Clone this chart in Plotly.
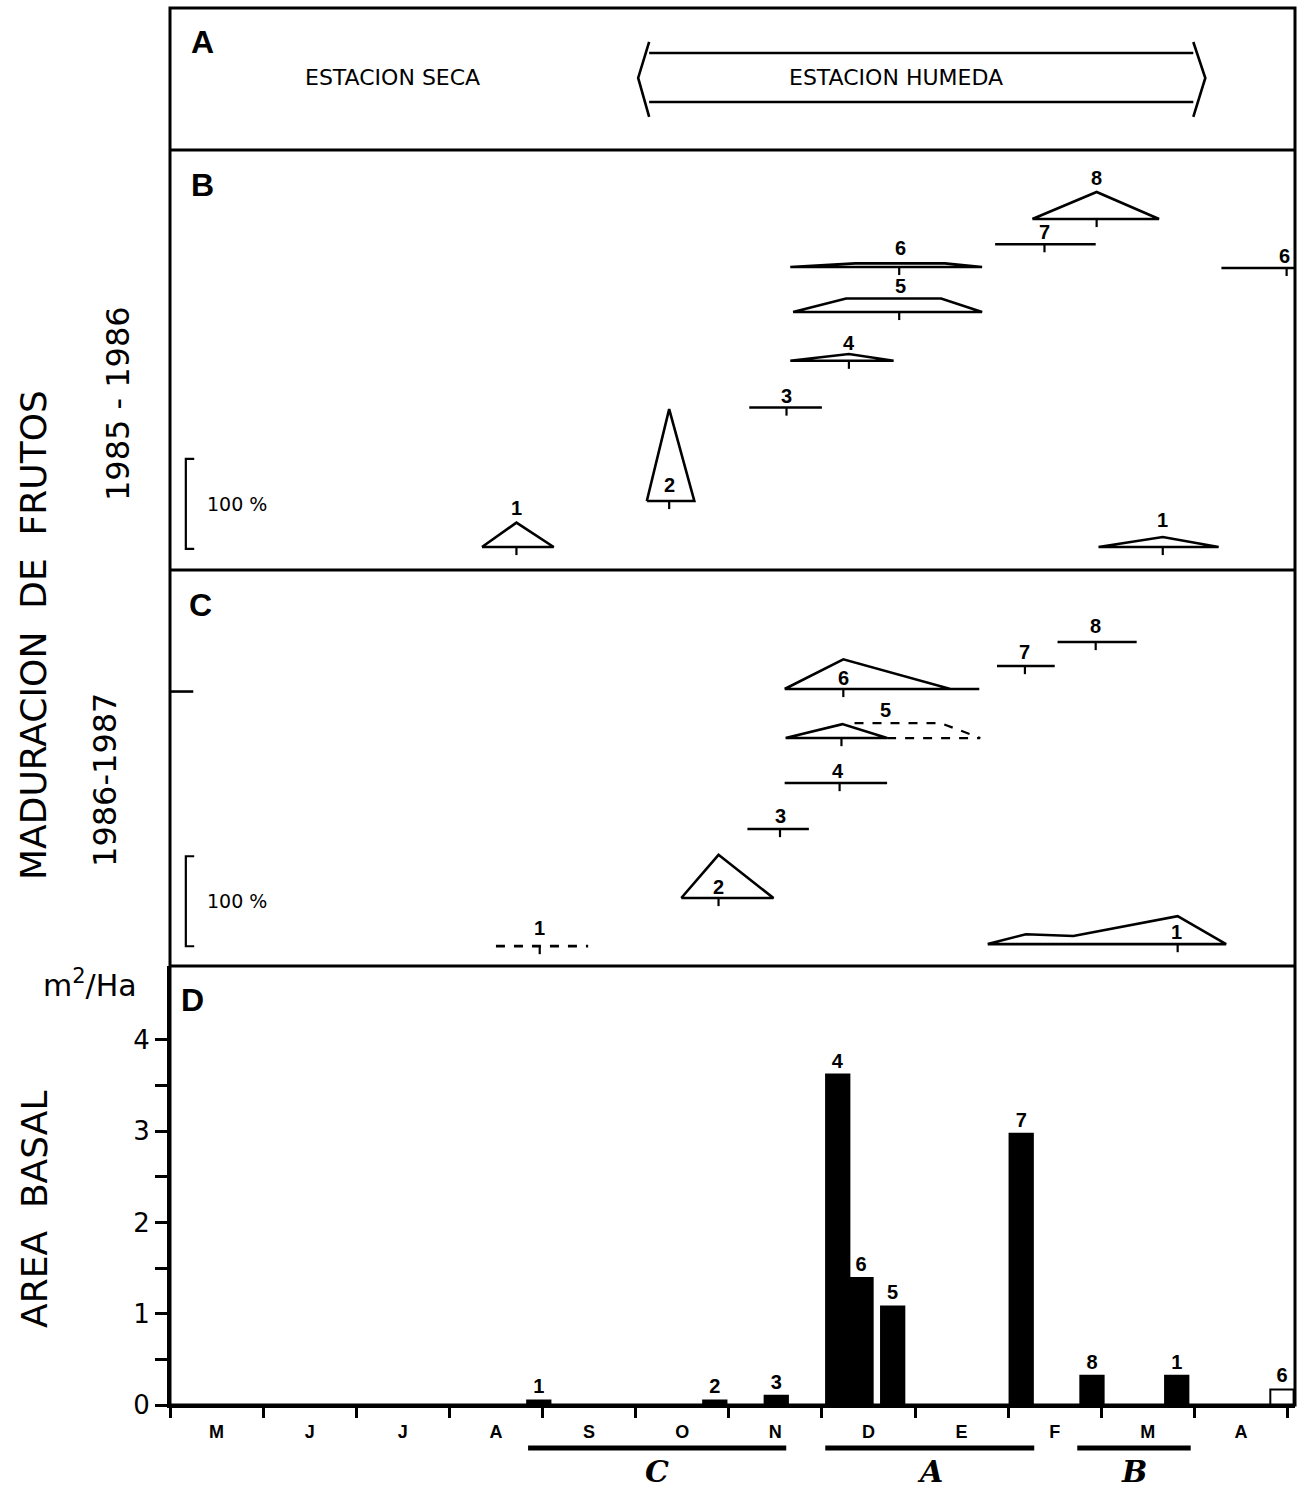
import plotly.graph_objects as go

# ---------------- data ----------------
MONTHS = ["M", "J", "J", "A", "S", "O", "N", "D", "E", "F", "M", "A"]
MONTH_MID = [i + 0.5 for i in range(12)]
MONTH_EDGES = list(range(13))

# Panel B (1985-1986): ripening profiles, x in months from 1 May, pct = % of fruits ripening
B_labels = ["1", "2", "3", "4", "5", "6", "7", "8", "6", "1"]
B_x = [[3.35, 3.72, 4.12], [5.12, 5.36, 5.63], [6.22, 7.00], [6.66, 7.29, 7.77],
       [6.69, 7.26, 8.28, 8.72], [6.66, 7.36, 8.32, 8.72], [8.86, 9.94],
       [9.26, 9.95, 10.62], [11.29, 12.08], [9.97, 10.66, 11.26]]
B_pct = [[0, 27, 0], [0, 102, 0], [0, 0], [0, 7.5, 0], [0, 15, 15, 0], [0, 4, 4, 0],
         [0, 0], [0, 30, 0], [0, 0], [0, 11, 0]]
B_peak = [3.72, 5.36, 6.62, 7.29, 7.83, 7.83, 9.39, 9.95, 11.99, 10.66]
B_rows = [25.6, 76.7, 180.5, 232.5, 286.7, 336.7, 362, 390, 335.6, 25.6]
B_lab_x = [3.72, 5.36, 6.62, 7.29, 7.84, 7.84, 9.39, 9.95, 11.97, 10.66]
B_lab_dy = [43, 18, 13, 20, 29, 21, 13, 46, 13, 30]

# Panel C (1986-1987)
C_labels = ["1", "2", "3", "4", "5", "6", "7", "8", "1"]
C_x = [[3.50, 4.49], [5.49, 5.89, 6.48], [6.20, 6.86], [6.60, 7.70], [6.61, 7.22, 7.70],
       [6.60, 7.23, 8.38, 8.69], [8.88, 9.50], [9.53, 10.38],
       [8.78, 9.19, 9.70, 10.82, 11.34]]
C_pct = [[0, 0], [0, 48, 0], [0, 0], [0, 0], [0, 15.5, 0], [0, 33, 0, 0], [0, 0], [0, 0],
         [0, 11, 9, 31, 0]]
C_dashed = [True, False, False, False, False, False, False, False, False]
C_peak = [3.97, 5.89, 6.55, 7.19, 7.21, 7.23, 9.18, 9.94, 10.82]
C_rows = [22.2, 75.6, 152.2, 203.3, 253.3, 307.8, 333.3, 360, 24.4]
C_lab_x = [3.97, 5.89, 6.55, 7.17, 7.68, 7.23, 9.18, 9.94, 10.81]
C_lab_dy = [20, 12, 14, 13, 31, 12, 16, 18, 13]
C5_dash_x = [7.35, 8.28, 8.70]
C5_dash_pct = [16.5, 16.5, 0]
C5_dash_base_x = [7.70, 8.70]
C6_prev_x = [0.0, 0.25]
C6_prev_row = 305

# Panel D: basal area (m2/Ha)
D_labels = ["1", "2", "3", "4", "6", "5", "7", "8", "1", "6"]
D_x = [3.96, 5.85, 6.51, 7.17, 7.42, 7.76, 9.14, 9.90, 10.81, 11.94]
D_val = [0.05, 0.05, 0.10, 3.62, 1.39, 1.08, 2.97, 0.32, 0.32, 0.17]
D_open = [False] * 9 + [True]

# Panel A: seasons
WET_START, WET_END = 5.145, 10.988
GROUPS = ["C", "A", "B"]
GROUP_START = [3.845, 7.036, 9.742]
GROUP_END = [6.617, 9.280, 10.960]

# ---------------- layout geometry ----------------
DOM_D = (0.0, 0.3142)
DOM_C = (0.3142, 0.5977)
DOM_B = (0.5977, 0.8984)
DOM_A = (0.8984, 1.0)
XMAX = 12.08

fig = go.Figure()
BLACK = "black"
LW = 2.6


def add_line(x, y, yref, dash="solid", width=LW):
    fig.add_trace(go.Scatter(x=x, y=y, yaxis=yref, mode="lines",
                             line=dict(color=BLACK, width=width, dash=dash),
                             hoverinfo="skip", showlegend=False, cliponaxis=False))


def note(x, y, xref, yref, text, font, angle=0):
    fig.add_annotation(x=x, y=y, xref=xref, yref=yref, text=text, showarrow=False,
                       xanchor="center", yanchor="middle", textangle=angle, font=font)


def add_panel(labels, xs, pcts, rows, peaks, lab_x, lab_dy, yref, dashed=None):
    tx, ty = [], []
    for i, lab in enumerate(labels):
        row = rows[i]
        dash = "dash" if (dashed and dashed[i]) else "solid"
        if all(p == 0 for p in pcts[i]):
            x = list(xs[i]); y = [row] * len(xs[i])
        else:
            x = list(xs[i]) + [xs[i][0]]
            y = [row + p for p in pcts[i]] + [row]
        add_line(x, y, yref, dash=dash)
        tx += [peaks[i], peaks[i], None]
        ty += [row, row - 9, None]
        note(lab_x[i], row + lab_dy[i], "x", yref, lab,
             dict(family="Liberation Sans", size=20, weight="bold", color=BLACK))
    add_line(tx, ty, yref, width=2.2)


add_panel(B_labels, B_x, B_pct, B_rows, B_peak, B_lab_x, B_lab_dy, "y3")
add_panel(C_labels, C_x, C_pct, C_rows, C_peak, C_lab_x, C_lab_dy, "y2", C_dashed)
# extra pieces in C
r5 = C_rows[4]
add_line(C5_dash_x, [r5 + p for p in C5_dash_pct], "y2", dash="dash", width=2.2)
add_line(C5_dash_base_x, [r5, r5], "y2", dash="dash", width=2.2)
add_line(C6_prev_x, [C6_prev_row, C6_prev_row], "y2")

# scale brackets (100 %)
for yref, base in (("y3", 23.5), ("y2", 22.0)):
    add_line([0.26, 0.17, 0.17, 0.26], [base + 100, base + 100, base, base], yref, width=2.2)
    note(0.72, base + 50, "x", yref, "100 %", dict(family="DejaVu Sans", size=19, color=BLACK))

# Panel A: double arrow
add_line([WET_START, WET_END], [97, 97], "y4")
add_line([WET_START, WET_END], [48, 48], "y4")
add_line([WET_START, WET_START - 0.118, WET_START], [108, 72, 33], "y4")
add_line([WET_END, WET_END + 0.129, WET_END], [108, 72, 33], "y4")
note(2.39, 72, "x", "y4", "ESTACION SECA", dict(family="DejaVu Sans", size=22, color=BLACK))
note(7.80, 72, "x", "y4", "ESTACION HUMEDA", dict(family="DejaVu Sans", size=22, color=BLACK))

# Panel D: bars
fig.add_trace(go.Bar(x=D_x, y=D_val, width=0.25, yaxis="y",
                     marker=dict(color=["white" if o else BLACK for o in D_open],
                                 line=dict(color=BLACK, width=2)),
                     text=D_labels, textposition="outside", constraintext="none",
                     textfont=dict(family="Liberation Sans", size=20, weight="bold", color=BLACK),
                     cliponaxis=False, hoverinfo="skip", showlegend=False))

# panel letters
for lab, x, y, yref in (("A", 0.35, 108, "y4"), ("B", 0.35, 428, "y3"),
                        ("C", 0.33, 401, "y2"), ("D", 0.24, 4.44, "y")):
    note(x, y, "x", yref, lab, dict(family="Liberation Sans", size=32, weight="bold", color=BLACK))

# frame
shapes = [dict(type="rect", xref="paper", yref="paper", x0=0, x1=1, y0=0, y1=1,
               line=dict(color=BLACK, width=3))]
for yb in (DOM_D[1], DOM_C[1], DOM_B[1]):
    shapes.append(dict(type="line", xref="paper", yref="paper", x0=0, x1=1, y0=yb, y1=yb,
                       line=dict(color=BLACK, width=3)))
for g, a, b in zip(GROUPS, GROUP_START, GROUP_END):
    shapes.append(dict(type="line", xref="x", yref="paper", x0=a, x1=b, y0=-0.0308, y1=-0.0308,
                       line=dict(color=BLACK, width=5)))
    note((a + b) / 2, -0.0475, "x", "paper", g,
         dict(family="DejaVu Serif", size=30, weight="bold", style="italic", color=BLACK))
fig.update_layout(shapes=shapes)

# side titles
side = [("MADURACION  DE  FRUTOS", -0.1209, 0.5512, 36),
        ("1985 - 1986", -0.0462, 0.7165, 32),
        ("1986-1987", -0.0578, 0.4474, 32),
        ("AREA  BASAL", -0.1200, 0.1396, 36)]
for t, x, y, s in side:
    note(x, y, "paper", "paper", t, dict(family="DejaVu Sans", size=s, color=BLACK), angle=-90)
note(-0.0711, 0.302, "paper", "paper", "m<sup>2</sup>/Ha",
     dict(family="DejaVu Sans", size=30, color=BLACK))

fig.update_layout(
    width=1304, height=1493,
    margin=dict(l=170, r=9, t=8, b=88),
    paper_bgcolor="white", plot_bgcolor="white", showlegend=False,
    xaxis=dict(range=[0, XMAX], domain=[0, 1], anchor="y", showgrid=False, zeroline=False,
               showline=True, linecolor=BLACK, linewidth=3,
               tickvals=MONTH_MID, ticktext=MONTHS, ticks="outside", ticklen=8,
               tickcolor="rgba(0,0,0,0)",
               tickfont=dict(family="Liberation Sans", size=18, weight="bold", color=BLACK),
               minor=dict(tickvals=MONTH_EDGES, ticks="outside", ticklen=10, tickwidth=2.5,
                          tickcolor=BLACK, showgrid=False)),
    yaxis=dict(domain=list(DOM_D), range=[0, 4.808], showgrid=False, zeroline=False,
               showline=True, linecolor=BLACK, linewidth=3,
               tickvals=[0, 1, 2, 3, 4], ticks="outside", ticklen=12, tickwidth=2.5,
               tickcolor=BLACK,
               tickfont=dict(family="DejaVu Sans", size=26, color=BLACK),
               minor=dict(tickvals=[0.5, 1.5, 2.5, 3.5], ticks="outside", ticklen=12,
                          tickwidth=2.5, tickcolor=BLACK, showgrid=False)),
    yaxis2=dict(domain=list(DOM_C), range=[0, 440], visible=False),
    yaxis3=dict(domain=list(DOM_B), range=[0, 466.7], visible=False),
    yaxis4=dict(domain=list(DOM_A), range=[0, 142], visible=False),
)

fig.write_html("out.html")
